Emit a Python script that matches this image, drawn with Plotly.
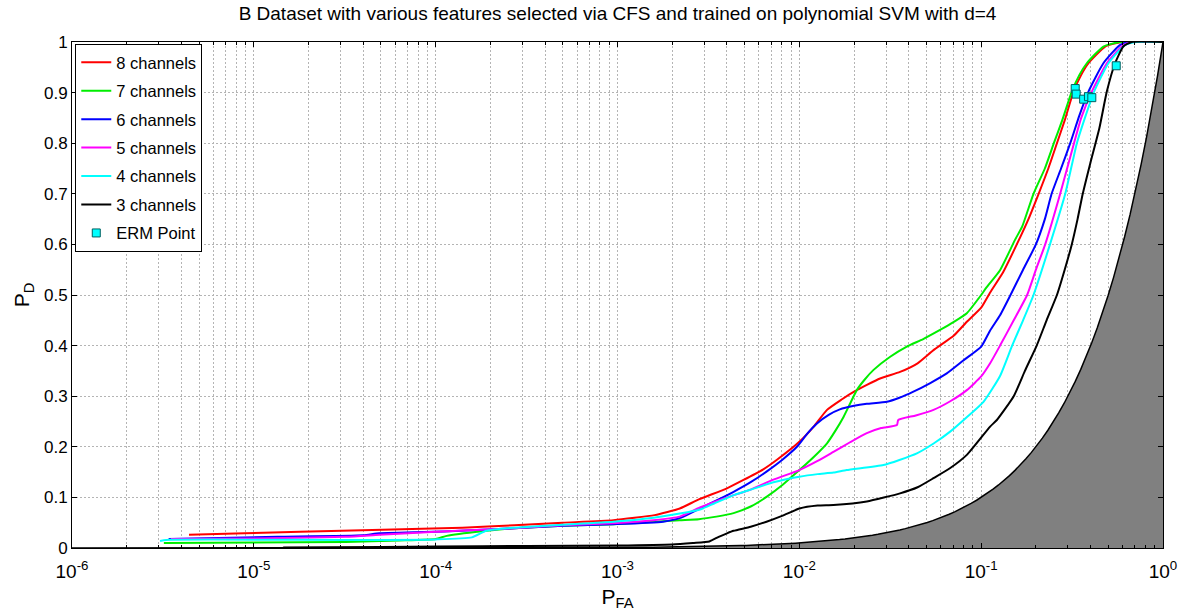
import numpy as np
import plotly.graph_objects as go

# ---------------- data ----------------
ch8_pfa = [4.4e-6, 8.9e-6, 1.8e-5, 5.1e-5, 1.4e-4, 2.7e-4, 5.0e-4, 9.5e-4, 1.6e-3, 2.2e-3,
           2.8e-3, 4.0e-3, 4.9e-3, 6.3e-3, 7.5e-3, 1.0e-2, 1.2e-2, 1.42e-2, 1.7e-2, 2.0e-2,
           2.78e-2, 3.58e-2, 4.47e-2, 5.47e-2, 7.08e-2, 8.34e-2, 0.1, 0.112, 0.132, 0.157,
           0.182, 0.207, 0.234, 0.261, 0.288, 0.322, 0.355, 0.389, 0.481, 0.593, 1.0]
ch8_pd = [0.026, 0.029, 0.032, 0.036, 0.040, 0.045, 0.050, 0.055, 0.065, 0.078,
          0.096, 0.118, 0.134, 0.155, 0.174, 0.210, 0.240, 0.273, 0.293, 0.309,
          0.335, 0.348, 0.365, 0.391, 0.420, 0.447, 0.475, 0.505, 0.545, 0.600,
          0.650, 0.700, 0.750, 0.800, 0.845, 0.902, 0.935, 0.958, 0.991, 1.0, 1.0]

ch7_pfa = [3.2e-6, 1e-5, 3.2e-5, 6.3e-5, 1e-4, 1.15e-4, 1.8e-4, 2.7e-4, 5e-4, 9.5e-4,
           1.6e-3, 2.2e-3, 2.8e-3, 3.5e-3, 4.35e-3, 5.4e-3, 6.6e-3, 8.1e-3, 1.0e-2, 1.2e-2,
           1.42e-2, 1.58e-2, 1.75e-2, 1.9e-2, 2.07e-2, 2.29e-2, 2.56e-2, 3.16e-2, 3.9e-2, 4.8e-2,
           5.94e-2, 7.08e-2, 8.34e-2, 0.1, 0.107, 0.127, 0.154, 0.168, 0.194, 0.224,
           0.251, 0.279, 0.315, 0.347, 0.381, 0.47, 0.579, 1.0]
ch7_pd = [0.010, 0.011, 0.012, 0.015, 0.018, 0.024, 0.033, 0.039, 0.044, 0.047,
          0.052, 0.055, 0.057, 0.062, 0.069, 0.082, 0.101, 0.125, 0.154, 0.180,
          0.207, 0.232, 0.259, 0.285, 0.312, 0.333, 0.352, 0.378, 0.398, 0.413,
          0.431, 0.447, 0.464, 0.500, 0.515, 0.549, 0.610, 0.635, 0.700, 0.750,
          0.800, 0.845, 0.902, 0.935, 0.958, 0.991, 1.0, 1.0]

ch6_pfa = [3.4e-6, 1.35e-5, 4.0e-5, 4.9e-5, 1.2e-4, 2.7e-4, 5e-4, 9.5e-4, 1.78e-3, 2.24e-3,
           2.84e-3, 3.55e-3, 4.35e-3, 5.4e-3, 6.6e-3, 8.1e-3, 9.7e-3, 1.1e-2, 1.25e-2, 1.45e-2,
           1.67e-2, 2.0e-2, 2.35e-2, 3.03e-2, 3.55e-2, 4.24e-2, 5.25e-2, 6.47e-2, 7.94e-2, 0.1,
           0.112, 0.127, 0.145, 0.17, 0.20, 0.224, 0.244, 0.275, 0.309, 0.347,
           0.389, 0.47, 0.579, 0.658, 1.0]
ch6_pd = [0.018, 0.022, 0.025, 0.029, 0.033, 0.039, 0.044, 0.047, 0.052, 0.060,
          0.078, 0.095, 0.111, 0.130, 0.151, 0.175, 0.200, 0.225, 0.246, 0.263,
          0.274, 0.281, 0.285, 0.289, 0.297, 0.309, 0.326, 0.345, 0.370, 0.398,
          0.430, 0.460, 0.500, 0.550, 0.600, 0.650, 0.700, 0.750, 0.800, 0.855,
          0.902, 0.958, 0.994, 1.0, 1.0]

ch5_pfa = [3.5e-6, 1e-5, 3.2e-5, 4.9e-5, 1e-4, 2.7e-4, 5e-4, 9.5e-4, 1.58e-3, 2.2e-3,
           2.84e-3, 4e-3, 5.36e-3, 7.2e-3, 1.0e-2, 1.26e-2, 1.54e-2, 1.9e-2, 2.35e-2, 2.82e-2,
           3.44e-2, 3.5e-2, 4.37e-2, 5.47e-2, 6.76e-2, 8.34e-2, 0.1, 0.112, 0.127, 0.151,
           0.179, 0.2, 0.225, 0.272, 0.324, 0.355, 0.406, 0.491, 0.605, 0.687, 1.0]
ch5_pd = [0.018, 0.019, 0.022, 0.026, 0.032, 0.039, 0.045, 0.049, 0.055, 0.062,
          0.080, 0.100, 0.115, 0.135, 0.154, 0.172, 0.190, 0.209, 0.227, 0.237,
          0.243, 0.253, 0.262, 0.273, 0.290, 0.312, 0.339, 0.365, 0.400, 0.450,
          0.500, 0.550, 0.600, 0.700, 0.800, 0.850, 0.902, 0.958, 0.994, 1.0, 1.0]

ch4_pfa = [3.05e-6, 3.3e-6, 3.2e-5, 1e-4, 1.58e-4, 1.9e-4, 2.7e-4, 5e-4, 9.5e-4, 1.58e-3,
           2.2e-3, 2.84e-3, 3.4e-3, 4.4e-3, 5.36e-3, 7.2e-3, 1.0e-2, 1.26e-2, 1.54e-2, 1.82e-2,
           2.9e-2, 3.55e-2, 4.43e-2, 5.5e-2, 6.75e-2, 8.3e-2, 0.103, 0.127, 0.148, 0.17,
           0.194, 0.239, 0.29, 0.336, 0.372, 0.418, 0.501, 0.618, 0.716, 1.0]
ch4_pd = [0.014, 0.016, 0.016, 0.017, 0.021, 0.034, 0.040, 0.046, 0.052, 0.060,
          0.068, 0.076, 0.088, 0.105, 0.115, 0.130, 0.141, 0.146, 0.149, 0.154,
          0.164, 0.174, 0.187, 0.207, 0.230, 0.258, 0.289, 0.340, 0.400, 0.450,
          0.500, 0.600, 0.700, 0.800, 0.850, 0.902, 0.958, 0.994, 1.0, 1.0]

ch3_pfa = [1.45e-5, 5e-5, 1e-4, 3.2e-4, 1e-3, 2e-3, 2.6e-3, 3.2e-3, 3.6e-3, 4.0e-3,
           4.35e-3, 5.4e-3, 6.6e-3, 8.1e-3, 1.0e-2, 1.26e-2, 1.54e-2, 2.35e-2, 3.58e-2, 4.47e-2,
           5.47e-2, 6.76e-2, 8.34e-2, 0.112, 0.122, 0.151, 0.174, 0.202, 0.229, 0.261,
           0.288, 0.315, 0.339, 0.362, 0.398, 0.447, 0.491, 0.545, 0.605, 0.673, 1.0]
ch3_pd = [0.001, 0.002, 0.003, 0.004, 0.005, 0.007, 0.010, 0.013, 0.022, 0.029,
          0.034, 0.042, 0.052, 0.064, 0.078, 0.084, 0.085, 0.092, 0.108, 0.120,
          0.138, 0.158, 0.184, 0.240, 0.253, 0.300, 0.350, 0.400, 0.450, 0.500,
          0.550, 0.600, 0.650, 0.700, 0.760, 0.830, 0.902, 0.958, 0.991, 1.0, 1.0]

erm_pfa = [0.329, 0.333, 0.366, 0.389, 0.406, 0.553]
erm_pd = [0.908, 0.897, 0.887, 0.892, 0.890, 0.953]

# chance diagonal P_D = P_FA (shaded region below it)
chance_pfa = np.logspace(-6, 0, 200)
chance_pd = chance_pfa.copy()

names = ["8 channels", "7 channels", "6 channels", "5 channels", "4 channels", "3 channels"]
colors = ["#ff0000", "#00ee00", "#0000ff", "#ff00ff", "#00ffff", "#000000"]
series = [(ch8_pfa, ch8_pd), (ch7_pfa, ch7_pd), (ch6_pfa, ch6_pd),
          (ch5_pfa, ch5_pd), (ch4_pfa, ch4_pd), (ch3_pfa, ch3_pd)]

x_tickvals = [1e-6, 1e-5, 1e-4, 1e-3, 1e-2, 1e-1, 1]
x_ticktext = ["10<sup>-6</sup>", "10<sup>-5</sup>", "10<sup>-4</sup>", "10<sup>-3</sup>",
              "10<sup>-2</sup>", "10<sup>-1</sup>", "10<sup>0</sup>"]
y_tickvals = [0, 0.1, 0.2, 0.3, 0.4, 0.5, 0.6, 0.7, 0.8, 0.9, 1]
y_ticktext = ["0", "0.1", "0.2", "0.3", "0.4", "0.5", "0.6", "0.7", "0.8", "0.9", "1"]

minor_vals = [m * 10.0 ** k for k in range(-6, 0) for m in range(2, 10)]

FONT = "Liberation Sans, Arial, sans-serif"

fig = go.Figure()

fig.add_trace(go.Scatter(x=chance_pfa, y=chance_pd, mode="lines", fill="tozeroy",
                         fillcolor="#808080", line=dict(color="black", width=1.5),
                         showlegend=False, hoverinfo="skip"))

for i, ((px, py), nm, col) in enumerate(zip(series, names, colors)):
    fig.add_trace(go.Scatter(x=px, y=py, mode="lines", name=nm,
                             line=dict(color=col, width=2, shape="spline", smoothing=0.5),
                             legendgroup=f"g{i}"))

fig.add_trace(go.Scatter(x=erm_pfa, y=erm_pd, mode="markers", name="ERM Point",
                         marker=dict(symbol="square", size=8, color="#00ffff",
                                     line=dict(color="#006060", width=1)),
                         legendgroup="germ"))

grid = "#b4b4b4"
gdash = "2px,2px"
fig.update_layout(
    width=1179, height=614,
    margin=dict(l=72, r=16, t=42, b=66),
    paper_bgcolor="white", plot_bgcolor="white",
    font=dict(family=FONT, size=16, color="black"),
    title=dict(text="B Dataset with various features selected via CFS and trained on polynomial SVM with d=4",
               x=0.5, xref="paper", xanchor="center", y=1 - 13 / 614, yanchor="middle",
               font=dict(family=FONT, size=19)),
    showlegend=True,
    legend=dict(x=0.003, y=0.996, xanchor="left", yanchor="top",
                bgcolor="white", bordercolor="black", borderwidth=1,
                font=dict(family=FONT, size=16.5), traceorder="grouped",
                tracegroupgap=4, itemwidth=30),
    xaxis=dict(type="log", range=[-6, 0], tickmode="array", tickvals=x_tickvals,
               ticktext=x_ticktext, tickfont=dict(size=19), ticklabelstandoff=6,
               automargin=False,
               showline=True, linecolor="black", linewidth=1, mirror="allticks",
               ticks="inside", ticklen=5, tickcolor="black",
               showgrid=True, gridcolor=grid, griddash=gdash, gridwidth=1,
               minor=dict(tickmode="array", tickvals=minor_vals, ticks="inside", ticklen=3,
                          tickcolor="black", showgrid=True, gridcolor=grid,
                          griddash=gdash, gridwidth=1),
               zeroline=False,
               title=dict(text="P<sub>FA</sub>", font=dict(size=21), standoff=8)),
    yaxis=dict(range=[0, 1], tickmode="array", tickvals=y_tickvals, ticktext=y_ticktext,
               tickfont=dict(size=17), automargin=False,
               showline=True, linecolor="black", linewidth=1, mirror="allticks",
               ticks="inside", ticklen=5, tickcolor="black",
               showgrid=True, gridcolor=grid, griddash=gdash, gridwidth=1,
               zeroline=False,
               title=dict(text="P<sub>D</sub>", font=dict(size=21), standoff=8)),
)

fig.write_html("out.html")
